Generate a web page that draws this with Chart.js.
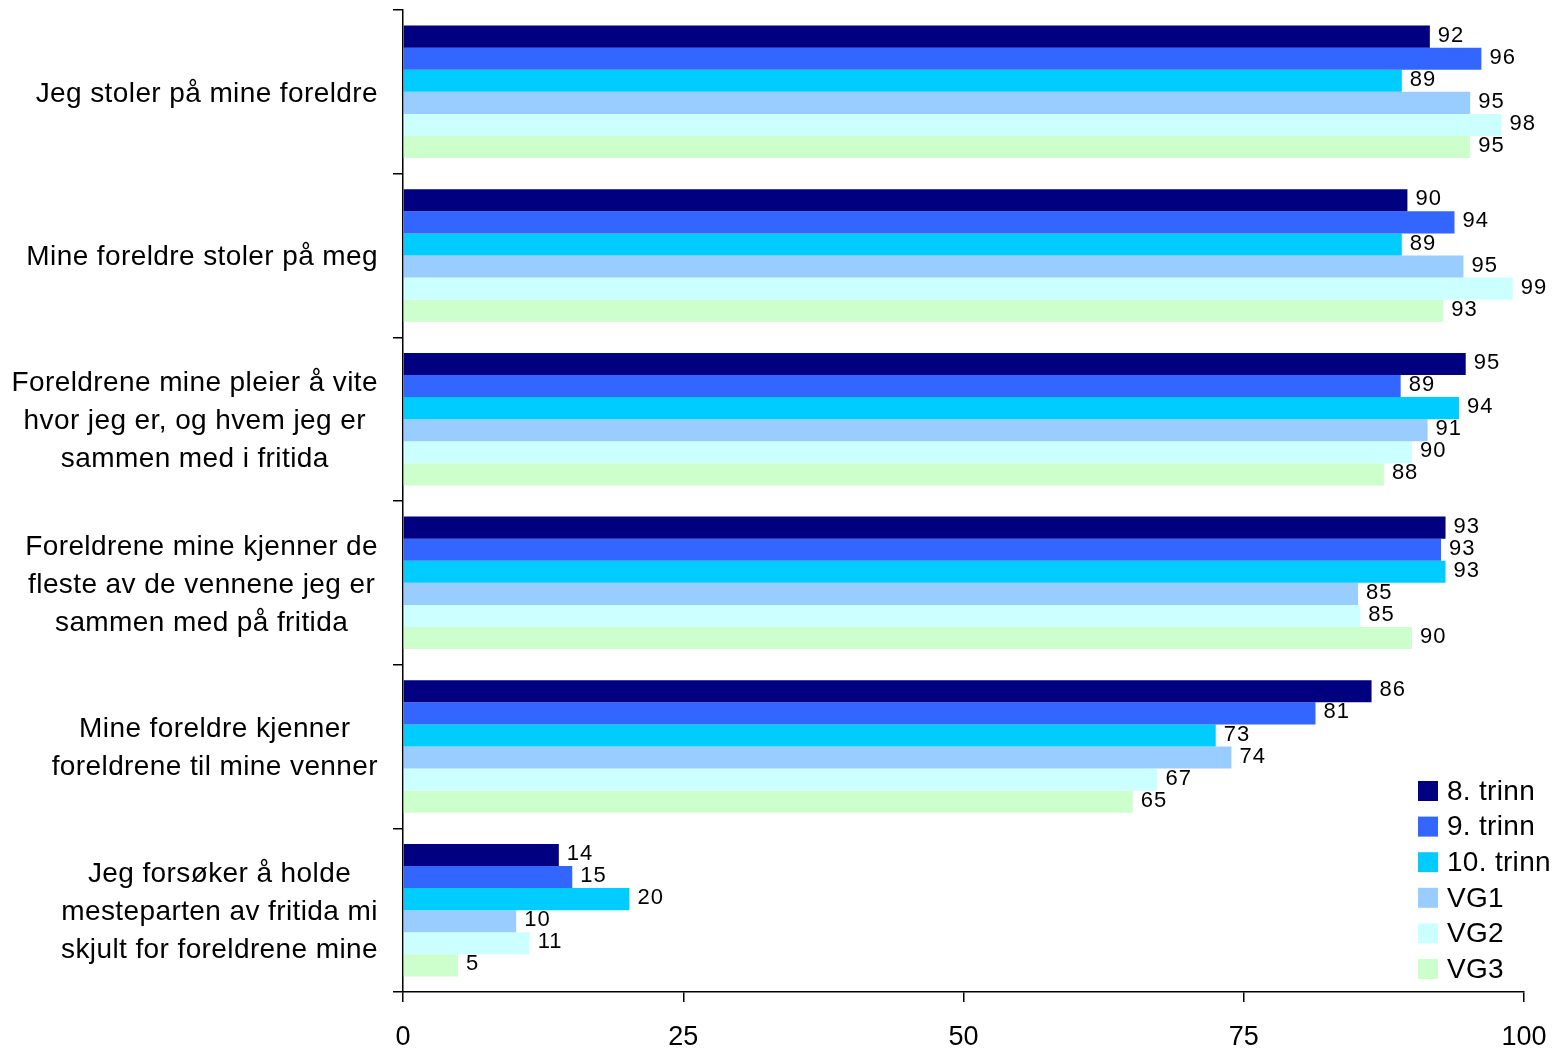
<!DOCTYPE html>
<html>
<head>
<meta charset="utf-8">
<script src="https://cdn.jsdelivr.net/npm/chart.js@4"></script>
<style>
  body { margin: 0; background: #fff; }
  canvas { display: block; }
</style>
</head>
<body>
<canvas id="myChart" width="1568" height="1051"></canvas>
<script>

var kategorier = [
  ["Jeg stoler på mine foreldre"],
  ["Mine foreldre stoler på meg"],
  ["Foreldrene mine pleier å vite", "hvor jeg er, og hvem jeg er", "sammen med i fritida"],
  ["Foreldrene mine kjenner de", "fleste av de vennene jeg er", "sammen med på fritida"],
  ["Mine foreldre kjenner", "foreldrene til mine venner"],
  ["Jeg forsøker å holde", "mesteparten av fritida mi", "skjult for foreldrene mine"]
];

var trinn8  = [91.6, 89.6, 94.8, 93.0, 86.4, 13.9];
var trinn9  = [96.2, 93.8, 89.0, 92.6, 81.4, 15.1];
var trinn10 = [89.1, 89.1, 94.2, 93.0, 72.5, 20.2];
var vg1     = [95.2, 94.6, 91.4, 85.2, 73.9, 10.1];
var vg2     = [98.0, 99.0, 90.0, 85.4, 67.3, 11.3];
var vg3     = [95.2, 92.8, 87.5, 90.0, 65.1, 4.9];

var serieNavn = ["8. trinn", "9. trinn", "10. trinn", "VG1", "VG2", "VG3"];
var farger = ["#000080", "#3366FF", "#00CCFF", "#99CCFF", "#CCFFFF", "#CCFFCC"];

var xTicks = [0, 25, 50, 75, 100];

var font = "'Liberation Sans', Arial, sans-serif";

// etiketter til venstre: blokken hoyrejustert, linjene sentrert
var kategoriPlugin = {
  id: "kategorier",
  afterDraw: function(chart) {
    var ctx = chart.ctx;
    var y = chart.scales.y;
    ctx.save();
    ctx.font = "28px " + font;
    ctx.letterSpacing = "0.4px";
    ctx.fillStyle = "#000";
    ctx.textAlign = "center";
    ctx.textBaseline = "middle";
    for (var i = 0; i < kategorier.length; i++) {
      var linjer = kategorier[i];
      var w = 0;
      for (var j = 0; j < linjer.length; j++) {
        w = Math.max(w, ctx.measureText(linjer[j]).width);
      }
      var cx = y.right - 25 - w / 2;
      var cy = y.getPixelForValue(i);
      var start = cy - (linjer.length - 1) * 38 / 2 + 2;
      for (var j = 0; j < linjer.length; j++) {
        ctx.fillText(linjer[j], cx, start + j * 38);
      }
    }
    ctx.restore();
  }
};

// tallene ved enden av hver stolpe
var verdiPlugin = {
  id: "verdier",
  afterDatasetsDraw: function(chart) {
    var ctx = chart.ctx;
    ctx.save();
    ctx.font = "22px " + font;
    ctx.letterSpacing = "1px";
    ctx.fillStyle = "#000";
    ctx.textAlign = "left";
    ctx.textBaseline = "middle";
    chart.data.datasets.forEach(function(ds, d) {
      var meta = chart.getDatasetMeta(d);
      meta.data.forEach(function(bar, i) {
        ctx.fillText(Math.round(ds.data[i]), bar.x + 8, bar.y - 1);
      });
    });
    ctx.restore();
  }
};

// forklaring nede til hoyre
var forklaringPlugin = {
  id: "forklaring",
  afterDraw: function(chart) {
    var ctx = chart.ctx;
    ctx.save();
    ctx.font = "28px " + font;
    ctx.letterSpacing = "0.3px";
    ctx.textBaseline = "middle";
    ctx.textAlign = "left";
    for (var i = 0; i < serieNavn.length; i++) {
      var yy = 791 + i * 35.6;
      ctx.fillStyle = farger[i];
      ctx.fillRect(1418, yy - 10, 20, 20);
      ctx.fillStyle = "#000";
      ctx.fillText(serieNavn[i], 1447, yy + 1);
    }
    ctx.restore();
  }
};

function lagDatasett() {
  var serier = [trinn8, trinn9, trinn10, vg1, vg2, vg3];
  var ds = [];
  for (var i = 0; i < serier.length; i++) {
    ds.push({
      label: serieNavn[i],
      data: serier[i],
      backgroundColor: farger[i],
      borderWidth: 0,
      categoryPercentage: 0.81,
      barPercentage: 1
    });
  }
  return ds;
}

function init() {
  var ctx = document.getElementById("myChart").getContext("2d");
  var myChart = new Chart(ctx, {
    type: "bar",
    data: {
      labels: kategorier,
      datasets: lagDatasett()
    },
    options: {
      indexAxis: "y",
      responsive: false,
      animation: false,
      layout: { padding: { top: 10, right: 44, left: 0, bottom: 0 } },
      plugins: {
        legend: { display: false },
        tooltip: { enabled: false }
      },
      scales: {
        y: {
          grid: {
            offset: true,
            drawOnChartArea: false,
            tickLength: 10,
            color: "#000",
            lineWidth: 1.5
          },
          border: { color: "#000", width: 1.5 },
          ticks: { display: false },
          afterFit: function(scale) { scale.width = 403; }
        },
        x: {
          min: 0,
          max: 100,
          afterBuildTicks: function(scale) {
            scale.ticks = xTicks.map(function(v) { return { value: v }; });
          },
          grid: {
            drawOnChartArea: false,
            tickLength: 10,
            color: "#000",
            lineWidth: 1.5
          },
          border: { color: "#000", width: 1.5 },
          ticks: {
            color: "#000",
            font: { size: 27, family: font },
            padding: 19,
            maxRotation: 0
          },
          afterFit: function(scale) { scale.height = 59; }
        }
      }
    },
    plugins: [kategoriPlugin, verdiPlugin, forklaringPlugin]
  });
}

init();

</script>
</body>
</html>
